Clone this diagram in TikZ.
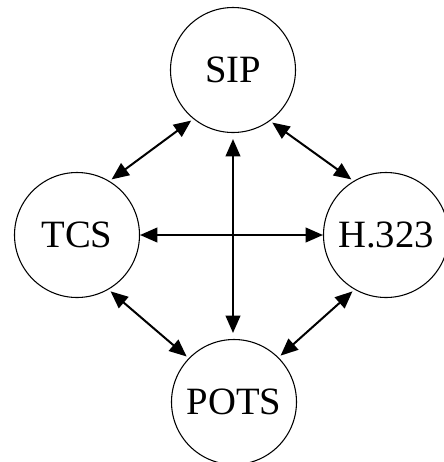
\documentclass[tikz,border=0pt]{standalone}
\usepackage{fontspec}
\setmainfont{Liberation Serif}
\usetikzlibrary{arrows.meta}
\begin{document}
\begin{tikzpicture}[x=0.75pt,y=-0.75pt,
  proto/.style={circle,draw,line width=0.8pt,minimum size=93.75pt,inner sep=0pt,
    font=\fontsize{29}{29}\selectfont},
  link/.style={line width=1.5pt,
    {Triangle[length=13pt,width=11pt]}-{Triangle[length=13pt,width=11pt]}}]
  \useasboundingbox (0,0) rectangle (444,462);
  \node[proto] (sip)  at (233,70)  {SIP};
  \node[proto] (tcs)  at (77,235)  {TCS};
  \node[proto] (h323) at (386,235) {H.323};
  \node[proto] (pots) at (234,402) {POTS};
  % links between the protocols
  \draw[link,shorten <=2pt,shorten >=2pt] (sip.-129) -- (tcs.59);
  \draw[link,shorten <=2pt,shorten >=2pt] (sip.-54) -- (h323.121);
  \draw[link,shorten <=2pt,shorten >=2pt] (tcs.-60) -- (pots.136);
  \draw[link,shorten <=2pt,shorten >=2pt] (pots.45) -- (h323.-120);
  \draw[link,shorten <=4.5pt,shorten >=4.5pt] (sip.south) -- (sip.south |- pots.north);
  \draw[link] (tcs.east) -- (h323.west);
\end{tikzpicture}
\end{document}
